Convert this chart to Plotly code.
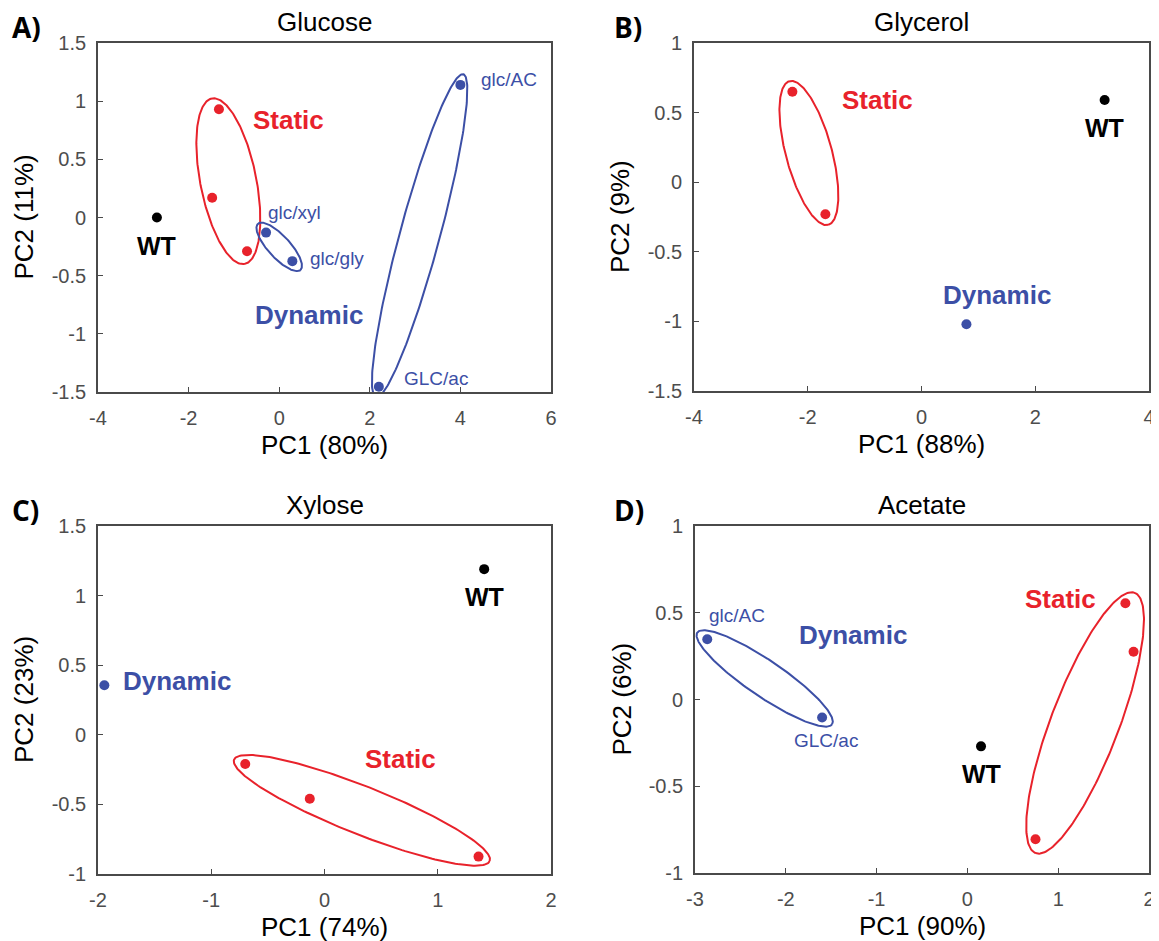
import numpy as np
import plotly.graph_objects as go

# ---------------- DATA ----------------
titles = ["Glucose", "Glycerol", "Xylose", "Acetate"]
panel_letters = ["A)", "B)", "C)", "D)"]
x_titles = ["PC1 (80%)", "PC1 (88%)", "PC1 (74%)", "PC1 (90%)"]
y_titles = ["PC2 (11%)", "PC2 (9%)", "PC2 (23%)", "PC2 (6%)"]
x_ranges = [(-4, 6), (-4, 4), (-2, 2), (-3, 2)]
y_ranges = [(-1.5, 1.5), (-1.5, 1), (-1, 1.5), (-1, 1)]
x_tickvals = [[-4, -2, 0, 2, 4, 6], [-4, -2, 0, 2, 4], [-2, -1, 0, 1, 2], [-3, -2, -1, 0, 1, 2]]
y_tickvals = [[-1.5, -1, -0.5, 0, 0.5, 1, 1.5], [-1.5, -1, -0.5, 0, 0.5, 1],
              [-1, -0.5, 0, 0.5, 1, 1.5], [-1, -0.5, 0, 0.5, 1]]

# WT points
wt_x = [-2.70, 3.22, 1.41, 0.15]
wt_y = [0.0, 0.59, 1.19, -0.27]

# Static points
static_x = [[-1.33, -1.48, -0.71], [-2.27, -1.69], [-0.70, -0.13, 1.36], [1.74, 1.83, 0.75]]
static_y = [[0.93, 0.17, -0.29], [0.65, -0.23], [-0.21, -0.46, -0.875], [0.555, 0.275, -0.805]]

# Dynamic points (clusters)
glc_dyn_small_x = [-0.29, 0.29]
glc_dyn_small_y = [-0.13, -0.375]
glc_dyn_big_x = [4.0, 2.2]
glc_dyn_big_y = [1.14, -1.455]
gly_dyn_x = [0.79]
gly_dyn_y = [-1.02]
xyl_dyn_x = [-1.944]
xyl_dyn_y = [0.356]
ace_dyn_x = [-2.865, -1.60]
ace_dyn_y = [0.347, -0.104]

# Point labels
glc_point_labels = ["glc/xyl", "glc/gly", "glc/AC", "GLC/ac"]
glc_point_label_x = [-0.29, 0.63, 4.41, 2.70]
glc_point_label_y = [0.047, -0.354, 1.19, -1.38]
ace_point_labels = ["glc/AC", "GLC/ac"]
ace_point_label_x = [-2.865, -1.936]
ace_point_label_y = [0.487, -0.236]

# Group labels per panel
static_label_x = [-0.63, -1.44, 0.337, 0.61]
static_label_y = [0.84, 0.588, -0.177, 0.578]
dynamic_label_x = [-0.57, 0.35, -1.80, -1.874]
dynamic_label_y = [-0.84, -0.81, 0.387, 0.372]

# ---------------- STYLE ----------------
RED = "#e8222b"
BLUE = "#3c4fa6"
BLACK = "#000000"
AXC = "#4a4a4a"
TICKC = "#4d4d4d"
FONT = "Liberation Sans, Arial, sans-serif"
WT_LABEL_SHIFT = -28  # px

# The page body has an 8px default margin; the figure is sized so that
# page pixel = OFF + figure pixel, and coordinates below are page pixels.
OFF = 8
PAGE_W, PAGE_H = 1159, 941
W, H = PAGE_W - OFF, PAGE_H - OFF
boxes_page = [(98, 551, 43, 392), (694, 1149, 43, 391), (98, 551, 526, 874), (695, 1149, 526, 873)]
boxes = [(l - OFF, r - OFF, t - OFF, b - OFF) for (l, r, t, b) in boxes_page]

fig = go.Figure()

def axname(i, kind):
    return kind if i == 0 else f"{kind}{i+1}"

def fmt(v):
    return f"{v:g}"

def ellipse(i, xs, ys, pad_a, B, shift_frac, color):
    l, r, t, b = boxes[i]
    x0, x1 = x_ranges[i]
    y0, y1 = y_ranges[i]
    sx = (r - l) / (x1 - x0)
    sy = (b - t) / (y1 - y0)
    pts = np.stack([np.array(xs) * sx, np.array(ys) * sy], axis=1)
    n = len(pts)
    best = (0, 1, -1)
    for a in range(n):
        for c in range(a + 1, n):
            d = np.hypot(*(pts[a] - pts[c]))
            if d > best[2]:
                best = (a, c, d)
    u = pts[best[1]] - pts[best[0]]
    u = u / np.linalg.norm(u)
    v = np.array([-u[1], u[0]])
    along = pts @ u
    perp = pts @ v
    base = perp[best[0]]
    off = perp - base
    k = int(np.argmax(np.abs(off)))
    ca = (along.min() + along.max()) / 2
    cp = base + shift_frac * off[k]
    A = (along.max() - along.min()) / 2 + pad_a
    th = np.linspace(0, 2 * np.pi, 240)
    P = (ca + A * np.cos(th))[:, None] * u + (cp + B * np.sin(th))[:, None] * v
    fig.add_trace(go.Scatter(x=P[:, 0] / sx, y=P[:, 1] / sy, mode="lines",
                             line=dict(color=color, width=2),
                             xaxis=axname(i, "x"), yaxis=axname(i, "y"),
                             hoverinfo="skip", showlegend=False))

def points(i, xs, ys, color, size=10):
    fig.add_trace(go.Scatter(x=xs, y=ys, mode="markers",
                             marker=dict(color=color, size=size, line=dict(width=0)),
                             xaxis=axname(i, "x"), yaxis=axname(i, "y"),
                             showlegend=False))

# ellipses
ellipse(0, static_x[0], static_y[0], 12, 28, 0.2, RED)
ellipse(0, glc_dyn_small_x, glc_dyn_small_y, 12, 11, 0.0, BLUE)
ellipse(0, glc_dyn_big_x, glc_dyn_big_y, 11, 20, 0.0, BLUE)
ellipse(1, static_x[1], static_y[1], 11, 23, 0.0, RED)
ellipse(2, static_x[2], static_y[2], 12, 24, 0.0, RED)
ellipse(3, ace_dyn_x, ace_dyn_y, 12, 18, 0.0, BLUE)
ellipse(3, static_x[3], static_y[3], 13, 34, 0.2, RED)

# points
for i in range(4):
    points(i, [wt_x[i]], [wt_y[i]], BLACK)
    points(i, static_x[i], static_y[i], RED)
points(0, glc_dyn_small_x + glc_dyn_big_x, glc_dyn_small_y + glc_dyn_big_y, BLUE)
points(1, gly_dyn_x, gly_dyn_y, BLUE)
points(2, xyl_dyn_x, xyl_dyn_y, BLUE)
points(3, ace_dyn_x, ace_dyn_y, BLUE)

ann = []
def text(i, x, y, s, color, size, bold=False, xanchor="left", yshift=0):
    ann.append(dict(x=x, y=y, xref=axname(i, "x"), yref=axname(i, "y"),
                    text=f"<b>{s}</b>" if bold else s, showarrow=False,
                    xanchor=xanchor, yanchor="middle", yshift=yshift,
                    font=dict(color=color, size=size, family=FONT)))

for i in range(4):
    text(i, wt_x[i], wt_y[i], "WT", BLACK, 25, True, "center", WT_LABEL_SHIFT)
    text(i, static_label_x[i], static_label_y[i], "Static", RED, 26, True)
    text(i, dynamic_label_x[i], dynamic_label_y[i], "Dynamic", BLUE, 26, True)
for s, x, y in zip(glc_point_labels, glc_point_label_x, glc_point_label_y):
    text(0, x, y, s, BLUE, 19)
for s, x, y in zip(ace_point_labels, ace_point_label_x, ace_point_label_y):
    text(3, x, y, s, BLUE, 19)

layout = dict(width=W, height=H, paper_bgcolor="white", plot_bgcolor="white",
              margin=dict(l=0, r=0, t=0, b=0), showlegend=False,
              font=dict(family=FONT))

for i in range(4):
    l, r, t, b = boxes[i]
    common = dict(showgrid=False, zeroline=False, showline=True, mirror=True,
                  linecolor=AXC, linewidth=1.8, ticks="inside", ticklen=5, tickcolor=AXC,
                  tickwidth=1.2, tickfont=dict(size=20, color=TICKC, family=FONT),
                  automargin=False, fixedrange=True, tickmode="array",
                  ticklabeloverflow="allow")
    xa = dict(domain=[l / W, r / W], range=list(x_ranges[i]),
              tickvals=x_tickvals[i], ticktext=[fmt(v) for v in x_tickvals[i]],
              anchor=axname(i, "y"), ticklabelstandoff=7, **common)
    ya = dict(domain=[1 - b / H, 1 - t / H], range=list(y_ranges[i]),
              tickvals=y_tickvals[i], ticktext=[fmt(v) for v in y_tickvals[i]],
              anchor=axname(i, "x"), ticklabelstandoff=6, **common)
    layout["xaxis" if i == 0 else f"xaxis{i+1}"] = xa
    layout["yaxis" if i == 0 else f"yaxis{i+1}"] = ya
    ann.append(dict(x=(l + r) / 2 / W, y=1 - (t - 21) / H, xref="paper", yref="paper",
                    text=titles[i], showarrow=False, xanchor="center", yanchor="middle",
                    font=dict(size=26, color=BLACK, family=FONT)))
    ann.append(dict(x=(l + r) / 2 / W, y=1 - (b + 53) / H, xref="paper", yref="paper",
                    text=x_titles[i], showarrow=False, xanchor="center", yanchor="middle",
                    font=dict(size=26, color=BLACK, family=FONT)))
    ann.append(dict(x=(l - 74) / W, y=1 - ((t + b) / 2) / H, xref="paper", yref="paper",
                    text=y_titles[i], showarrow=False, xanchor="center", yanchor="middle",
                    textangle=-90, font=dict(size=26, color=BLACK, family=FONT)))
    lx = (10 if i in (0, 2) else 612) - OFF
    ann.append(dict(x=lx / W, y=1 - (t - 16) / H, xref="paper", yref="paper",
                    text=f"<b>{panel_letters[i]}</b>", showarrow=False, xanchor="left",
                    yanchor="middle", font=dict(size=28, color=BLACK, family="Open Sans, sans-serif")))

layout["annotations"] = ann
fig.update_layout(**layout)
fig.write_html("out.html",
               post_script="document.documentElement.style.overflow='hidden';"
                           "document.body.style.overflow='hidden';")
